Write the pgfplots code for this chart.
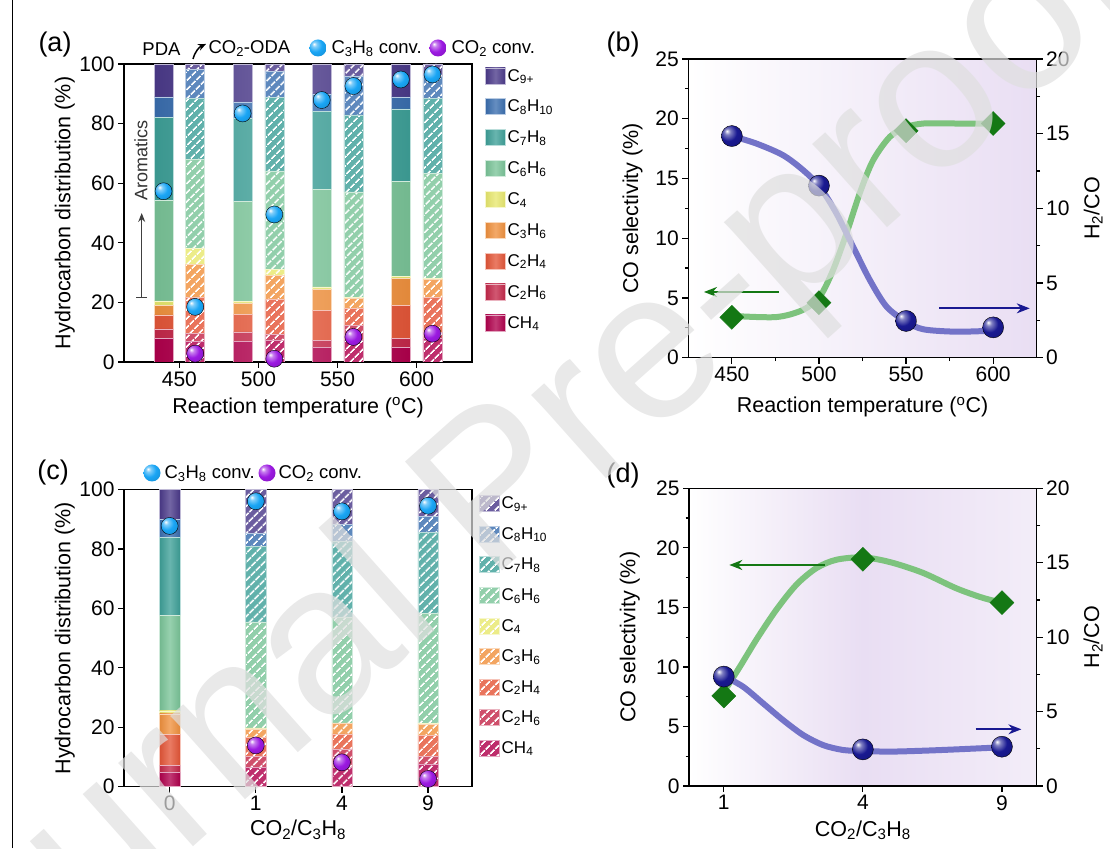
\documentclass[border=0pt]{standalone}
\usepackage{pgfplots}
\pgfplotsset{compat=1.18}
\usepackage{fontspec}
\setmainfont{Liberation Sans}
\usetikzlibrary{patterns.meta,arrows.meta}
\makeatletter
\pgfdeclareradialshading[tikz@ball]{ball}{\pgfqpoint{-12bp}{12bp}}{%
 color(0bp)=(tikz@ball!0!white);
 color(7bp)=(tikz@ball!55!white);
 color(20bp)=(tikz@ball);
 color(40bp)=(tikz@ball!85!black);
 color(65bp)=(tikz@ball!60!black)}
\makeatother
\definecolor{cA}{RGB}{75,58,138}
\definecolor{cB}{RGB}{58,110,175}
\definecolor{cC}{RGB}{62,160,152}
\definecolor{cD}{RGB}{122,196,152}
\definecolor{cE}{RGB}{232,232,110}
\definecolor{cF}{RGB}{240,145,62}
\definecolor{cG}{RGB}{228,86,56}
\definecolor{cH}{RGB}{196,40,74}
\definecolor{cI}{RGB}{176,0,76}
\definecolor{convB}{RGB}{25,165,245}
\definecolor{convP}{RGB}{155,25,225}
\definecolor{navy}{RGB}{25,25,145}
\definecolor{dgreen}{RGB}{20,120,20}
\definecolor{lgreen}{RGB}{125,195,125}
\definecolor{lblue}{RGB}{115,115,200}
\definecolor{lav}{RGB}{233,222,243}
\pgfplotsset{
  base/.style={
    scale only axis, anchor=south west,
    tick label style={font=\fontsize{21}{25}\selectfont},
    label style={font=\fontsize{21.5}{26}\selectfont},
    /pgf/number format/assume math mode=true,
    tick align=outside, major tick length=6pt, minor tick length=3.5pt,
    axis line style={line width=1.3pt},
    every tick/.style={line width=1.2pt, black},
    xtick pos=bottom, ytick pos=left,
  },
  sbar/.style={left color=#1!94!black, right color=#1!94!black, middle color=#1!78!white, draw=white!65!#1, line width=0.5pt,
    legend image code/.code={\path[left color=#1!94!black, right color=#1!94!black, middle color=#1!78!white] (0pt,-8pt) rectangle (20pt,8pt);}},
  hbar/.style={fill=#1!82!white, draw=white!65!#1, line width=0.5pt,
    postaction={pattern={Lines[angle=45,distance=6.5pt,line width=1.8pt]}, pattern color=white},
    legend image code/.code={\path[fill=#1!82!white, postaction={pattern={Lines[angle=45,distance=6.5pt,line width=1.8pt]}, pattern color=white}] (0pt,-8pt) rectangle (20pt,8pt);}},
  legA/.style={legend style={draw=none, fill=none, font=\fontsize{17}{20}\selectfont, row sep=13.5pt, cells={anchor=west}}},
}
\begin{document}
\begin{tikzpicture}
\useasboundingbox (0pt,0pt) rectangle (1110pt,848pt);
\draw[line width=1.5pt] (12.7pt,0pt) -- (12.7pt,848pt);
% ---------------- (a) ----------------
\begin{axis}[base, at={(124pt,486pt)}, width=348pt, height=298pt,
  xmin=415, xmax=635, ymin=0, ymax=100, ybar stacked, bar width=19pt,
  xtick={450,500,550,600}, ytick={0,20,...,100},
  xlabel={Reaction temperature (\textsuperscript{o}C)},
  ylabel={Hydrocarbon distribution (\%)},
  xlabel style={at={(axis description cs:0.5,-0.154)}, anchor=center},
  ylabel style={at={(axis description cs:-0.17,0.5)}, anchor=center},
  legA, reverse legend,
  legend style={at={(1,1)}, anchor=north west, xshift=10pt, yshift=-1pt}]
\addplot[sbar=cI] coordinates {(440,8.0) (490,6.9) (540,4.8) (590,5.0)};
\addplot[sbar=cH] coordinates {(440,3.1) (490,3.2) (540,2.5) (590,2.8)};
\addplot[sbar=cG] coordinates {(440,4.7) (490,5.8) (540,10.1) (590,11.2)};
\addplot[sbar=cF] coordinates {(440,3.2) (490,3.7) (540,6.9) (590,9.0)};
\addplot[sbar=cE] coordinates {(440,1.5) (490,0.8) (540,0.9) (590,0.8)};
\addplot[sbar=cD] coordinates {(440,33.7) (490,33.6) (540,32.7) (590,31.7)};
\addplot[sbar=cC] coordinates {(440,28.0) (490,27.7) (540,26.3) (590,24.4)};
\addplot[sbar=cB] coordinates {(440,6.8) (490,5.6) (540,5.8) (590,4.1)};
\addplot[sbar=cA] coordinates {(440,11.0) (490,12.7) (540,10.0) (590,11.0)};
\legend{CH\textsubscript{4}, C\textsubscript{2}H\textsubscript{6}, C\textsubscript{2}H\textsubscript{4}, C\textsubscript{3}H\textsubscript{6}, C\textsubscript{4}, C\textsubscript{6}H\textsubscript{6}, C\textsubscript{7}H\textsubscript{8}, C\textsubscript{8}H\textsubscript{10}, C\textsubscript{9+}}
\end{axis}
\begin{axis}[base, hide axis, at={(124pt,486pt)}, width=348pt, height=298pt,
  xmin=415, xmax=635, ymin=0, ymax=100, ybar stacked, bar width=19pt]
\addplot[hbar=cI] coordinates {(460,7.0) (510,7.3) (560,7.3) (610,8.0)};
\addplot[hbar=cH] coordinates {(460,2.5) (510,2.0) (560,5.0) (610,2.0)};
\addplot[hbar=cG] coordinates {(460,12.3) (510,11.6) (560,5.6) (610,11.8)};
\addplot[hbar=cF] coordinates {(460,11.0) (510,8.1) (560,3.4) (610,5.9)};
\addplot[hbar=cE] coordinates {(460,5.3) (510,2.0) (560,0.3) (610,0.3)};
\addplot[hbar=cD] coordinates {(460,30.0) (510,33.1) (560,35.5) (610,35.3)};
\addplot[hbar=cC] coordinates {(460,20.4) (510,24.7) (560,25.8) (610,25.2)};
\addplot[hbar=cB] coordinates {(460,9.7) (510,8.6) (560,13.1) (610,7.5)};
\addplot[hbar=cA] coordinates {(460,1.8) (510,2.6) (560,4.0) (610,4.0)};
\end{axis}
\begin{axis}[base, hide axis, at={(124pt,486pt)}, width=348pt, height=298pt,
  xmin=415, xmax=635, ymin=0, ymax=100, clip=false]
\addplot[only marks, mark=ball, mark size=8.5pt, ball color=convB] coordinates {(440,57.3) (460,18.5) (490,83.4) (510,49.5) (540,87.9) (560,92.6) (590,94.8) (610,96.5)};
\addplot[only marks, mark=ball, mark size=8.5pt, ball color=convP] coordinates {(460,2.8) (510,1.1) (560,8.4) (610,9.5)};
\end{axis}
\node[font=\fontsize{18.5}{22}\selectfont] at (161.5pt,799pt) {PDA};
\draw[-{Stealth[length=8pt,width=7pt]}, line width=1.5pt] (193pt,789pt) to[bend left=25] (206pt,804pt);
\node[font=\fontsize{18.5}{22}\selectfont, anchor=west] at (205pt,799pt) {CO\textsubscript{2}-ODA};
\shade[ball color=convB] (318pt,800pt) circle (8.5pt);
\node[font=\fontsize{18.5}{22}\selectfont, anchor=west] at (328pt,799pt) {C\textsubscript{3}H\textsubscript{8} conv.};
\shade[ball color=convP] (438pt,800pt) circle (8.5pt);
\node[font=\fontsize{18.5}{22}\selectfont, anchor=west] at (448pt,799pt) {CO\textsubscript{2} conv.};
\node[font=\fontsize{18}{22}\selectfont, rotate=90, text=black!80] at (141pt,687pt) {Aromatics};
\draw[{Bar[width=11pt]}-{Stealth[length=9pt,width=7pt]}, line width=1.2pt, black!75] (141.7pt,550pt) -- (141.7pt,635pt);
\node[font=\fontsize{27}{30}\selectfont] at (55pt,803pt) {(a)};
% ---------------- (b) ----------------
\shade[left color=white, right color=lav] (688.3pt,490.3pt) rectangle (1036.7pt,789pt);
\begin{axis}[base, at={(688.3pt,490.3pt)}, width=348.4pt, height=298.7pt,
  xmin=425, xmax=625, ymin=0, ymax=25, xtick={450,500,550,600}, ytick={0,5,...,25},
  minor x tick num=1, minor y tick num=1,
  xlabel={Reaction temperature (\textsuperscript{o}C)}, ylabel={CO selectivity (\%)},
  xlabel style={at={(axis description cs:0.5,-0.166)}, anchor=center},
  ylabel style={at={(axis description cs:-0.16,0.5)}, anchor=center}]
\addplot[smooth, lgreen, line width=6pt] coordinates {(450,3.5) (475.4,3.4) (490.8,4.0) (500.4,5.1) (508,7.3) (515.8,10.4) (523.5,13.8) (531,16.5) (540.8,18.5) (550.4,19.3) (560,19.6) (579,19.6) (600,19.6)};
\addplot[only marks, mark=square*, mark size=8.5pt, mark options={rotate=45, fill=dgreen, draw=dgreen}] coordinates {(450,3.38) (500,4.6) (550,19.0) (600,19.6)};
\draw[-{Stealth[length=13pt,width=10pt]}, dgreen, line width=1.8pt] (axis cs:477,5.5) -- (axis cs:434,5.5);
\draw[-{Stealth[length=13pt,width=10pt]}, navy, line width=1.8pt] (axis cs:569,4.13) -- (axis cs:621,4.13);
\end{axis}
\begin{axis}[base, at={(688.3pt,490.3pt)}, width=348.4pt, height=298.7pt,
  xmin=425, xmax=625, ymin=0, ymax=20, axis y line*=right, axis x line=none,
  ytick={0,5,...,20}, minor y tick num=1, ytick pos=right,
  ylabel={H\textsubscript{2}/CO},
  ylabel style={at={(axis description cs:1.162,0.5)}, anchor=center}]
\addplot[smooth, lblue, line width=6pt] coordinates {(450,14.84) (463.8,14.35) (479.2,13.57) (490.8,12.57) (500.4,11.45) (510,9.67) (519.6,7.43) (529.2,5.2) (538.8,3.42) (550,2.41) (560,1.9) (579,1.74) (600,1.81)};
\addplot[only marks, mark=ball, mark size=10.5pt, ball color=navy] coordinates {(450,14.84) (500,11.52) (550,2.46) (600,2.03)};
\end{axis}
\node[font=\fontsize{27}{30}\selectfont] at (623pt,803pt) {(b)};
% ---------------- (c) ----------------
\begin{axis}[base, at={(124pt,61.3pt)}, width=348pt, height=297pt,
  xmin=-0.53, xmax=3.51, ymin=0, ymax=100, ybar stacked, bar width=20.3pt,
  xtick={0,1,2,3}, xticklabels={0,1,4,9}, ytick={0,20,...,100},
  xlabel={CO\textsubscript{2}/C\textsubscript{3}H\textsubscript{8}},
  ylabel={Hydrocarbon distribution (\%)},
  xlabel style={at={(axis description cs:0.5,-0.145)}, anchor=center},
  ylabel style={at={(axis description cs:-0.17,0.5)}, anchor=center},
  legA, reverse legend,
  legend style={at={(1,1)}, anchor=north west, xshift=4pt, yshift=-3pt, row sep=13.2pt}]
\addplot[hbar=cI] coordinates {(1,6.5) (2,6.5) (3,7.7)};
\addplot[hbar=cH] coordinates {(1,3.6) (2,6.2) (3,2.4)};
\addplot[hbar=cG] coordinates {(1,6.6) (2,5.1) (3,7.1)};
\addplot[hbar=cF] coordinates {(1,2.8) (2,3.4) (3,3.7)};
\addplot[hbar=cE] coordinates {(1,0.3) (2,0.3) (3,0.3)};
\addplot[hbar=cD] coordinates {(1,35.7) (2,35.7) (3,37.1)};
\addplot[hbar=cC] coordinates {(1,25.4) (2,25.6) (3,27.3)};
\addplot[hbar=cB] coordinates {(1,4.5) (2,5.4) (3,5.4)};
\addplot[hbar=cA] coordinates {(1,14.6) (2,11.8) (3,9.0)};
\legend{CH\textsubscript{4}, C\textsubscript{2}H\textsubscript{6}, C\textsubscript{2}H\textsubscript{4}, C\textsubscript{3}H\textsubscript{6}, C\textsubscript{4}, C\textsubscript{6}H\textsubscript{6}, C\textsubscript{7}H\textsubscript{8}, C\textsubscript{8}H\textsubscript{10}, C\textsubscript{9+}}
\end{axis}
\begin{axis}[base, hide axis, at={(124pt,61.3pt)}, width=348pt, height=297pt,
  xmin=-0.53, xmax=3.51, ymin=0, ymax=100, ybar stacked, bar width=20.3pt]
\addplot[sbar=cI] coordinates {(0,4.8)};
\addplot[sbar=cH] coordinates {(0,2.5)};
\addplot[sbar=cG] coordinates {(0,10.2)};
\addplot[sbar=cF] coordinates {(0,7.0)};
\addplot[sbar=cE] coordinates {(0,1.0)};
\addplot[sbar=cD] coordinates {(0,32.3)};
\addplot[sbar=cC] coordinates {(0,26.1)};
\addplot[sbar=cB] coordinates {(0,6.0)};
\addplot[sbar=cA] coordinates {(0,10.1)};
\end{axis}
\begin{axis}[base, hide axis, at={(124pt,61.3pt)}, width=348pt, height=297pt,
  xmin=-0.53, xmax=3.51, ymin=0, ymax=100, clip=false]
\addplot[only marks, mark=ball, mark size=8.5pt, ball color=convB] coordinates {(0,87.8) (1,96.1) (2,92.7) (3,94.6)};
\addplot[only marks, mark=ball, mark size=8.5pt, ball color=convP] coordinates {(1,13.9) (2,8.2) (3,2.6)};
\end{axis}
\shade[ball color=convB] (152pt,375pt) circle (8.5pt);
\node[font=\fontsize{18.5}{22}\selectfont, anchor=west] at (161pt,374pt) {C\textsubscript{3}H\textsubscript{8} conv.};
\shade[ball color=convP] (267pt,375pt) circle (8.5pt);
\node[font=\fontsize{18.5}{22}\selectfont, anchor=west] at (275pt,374pt) {CO\textsubscript{2} conv.};
\node[font=\fontsize{27}{30}\selectfont] at (53pt,375pt) {(c)};
% ---------------- (d) ----------------
\shade[left color=white, right color=lav] (689pt,62pt) rectangle (862.7pt,359.7pt);
\shade[left color=lav, right color=lav!55!white] (862.7pt,62pt) rectangle (1036.7pt,359.7pt);
\begin{axis}[base, at={(689pt,62pt)}, width=347.7pt, height=297.7pt,
  xmin=-0.25, xmax=2.25, ymin=0, ymax=25, xtick={0,1,2}, xticklabels={1,4,9}, ytick={0,5,...,25},
  minor y tick num=1,
  xlabel={CO\textsubscript{2}/C\textsubscript{3}H\textsubscript{8}}, ylabel={CO selectivity (\%)},
  xlabel style={at={(axis description cs:0.5,-0.148)}, anchor=center},
  ylabel style={at={(axis description cs:-0.17,0.5)}, anchor=center}]
\addplot[smooth, lgreen, line width=6pt] coordinates {(0,7.9) (0.115,10.0) (0.235,12.3) (0.378,14.8) (0.522,16.9) (0.666,18.3) (0.81,19.0) (1.0,19.2) (1.196,18.8) (1.432,17.9) (1.672,16.6) (1.863,15.8) (2.0,15.4)};
\addplot[only marks, mark=square*, mark size=8.5pt, mark options={rotate=45, fill=dgreen, draw=dgreen}] coordinates {(0,7.56) (1,19.04) (2,15.4)};
\draw[-{Stealth[length=13pt,width=10pt]}, dgreen, line width=1.8pt] (axis cs:0.726,18.56) -- (axis cs:0.04,18.56);
\draw[-{Stealth[length=13pt,width=10pt]}, navy, line width=1.8pt] (axis cs:1.81,4.76) -- (axis cs:2.14,4.76);
\end{axis}
\begin{axis}[base, at={(689pt,62pt)}, width=347.7pt, height=297.7pt,
  xmin=-0.25, xmax=2.25, ymin=0, ymax=20, axis y line*=right, axis x line=none,
  ytick={0,5,...,20}, minor y tick num=1, ytick pos=right,
  ylabel={H\textsubscript{2}/CO},
  ylabel style={at={(axis description cs:1.162,0.5)}, anchor=center}]
\addplot[smooth, lblue, line width=6pt] coordinates {(0,7.39) (0.139,6.67) (0.283,5.55) (0.426,4.43) (0.57,3.43) (0.714,2.75) (0.857,2.42) (1.0,2.35) (1.196,2.31) (1.432,2.37) (1.672,2.46) (2.0,2.6)};
\addplot[only marks, mark=ball, mark size=10.5pt, ball color=navy] coordinates {(0,7.35) (1,2.46) (2,2.64)};
\end{axis}
\node[font=\fontsize{27}{30}\selectfont] at (623pt,372pt) {(d)};
% watermark
\node[rotate=41.7, font=\fontsize{212}{212}\selectfont, text=gray!25, opacity=0.7] at (502pt,350pt) {Journal Pre-proof};
\end{tikzpicture}
\end{document}
